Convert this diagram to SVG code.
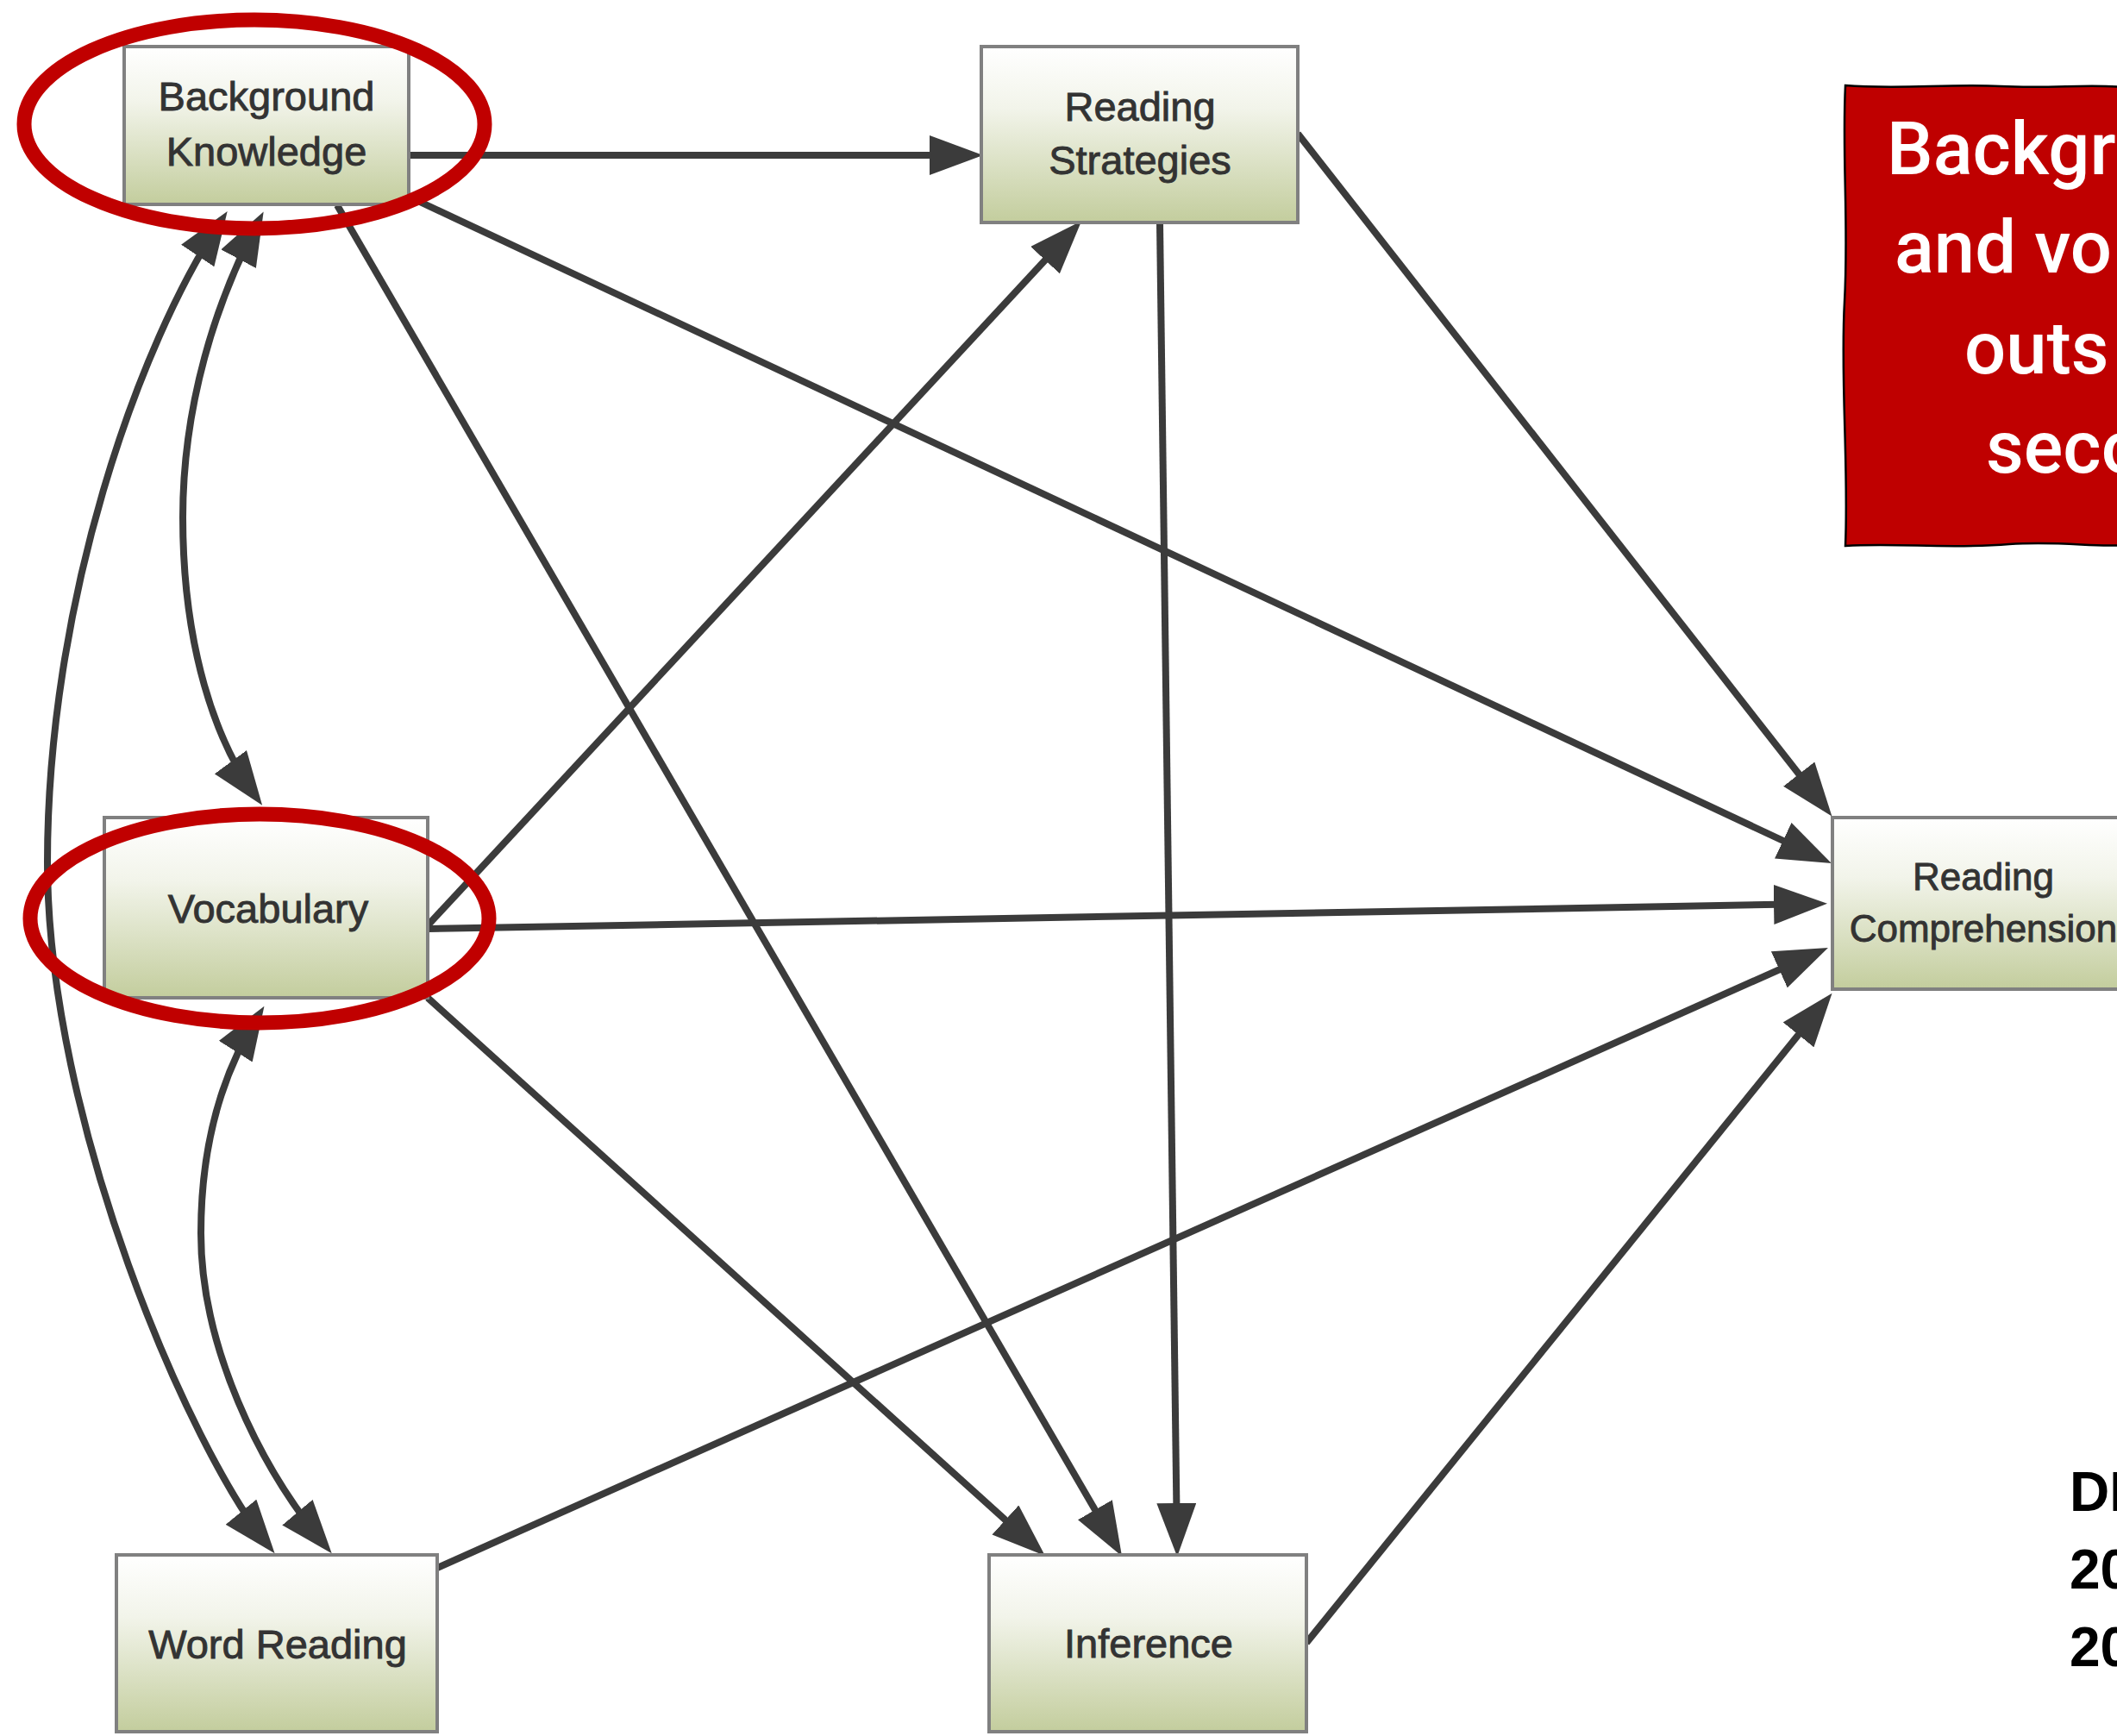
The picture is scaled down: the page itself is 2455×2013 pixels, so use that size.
<svg xmlns="http://www.w3.org/2000/svg" width="2455" height="2013" viewBox="0 0 2455 2013">
<defs>
<linearGradient id="nodeFill" x1="0" y1="0" x2="0" y2="1">
<stop offset="0" stop-color="#ffffff"/>
<stop offset="0.35" stop-color="#f2f4ea"/>
<stop offset="1" stop-color="#c3cd9d"/>
</linearGradient>
<marker id="arrow" viewBox="0 0 62 46" markerUnits="userSpaceOnUse" markerWidth="62" markerHeight="46" refX="50" refY="23" orient="auto-start-reverse">
<path d="M0,0 L62,23 L0,46 z" fill="#3b3b3b"/>
</marker>
<style>
.node rect{fill:url(#nodeFill);stroke:#808080;stroke-width:4}
.node text{font-family:"Liberation Sans",Arial,sans-serif;font-size:47px;fill:#333333;stroke:#333333;stroke-width:0.9;text-anchor:middle}
.conn path{fill:none;stroke:#3b3b3b;stroke-width:8;marker-end:url(#arrow)}
.conn path.both{marker-start:url(#arrow)}
.hl{fill:none;stroke:#c00000;stroke-width:17}
.callout text{font-family:Roboto,"Liberation Sans",sans-serif;font-weight:500;font-size:85px;fill:#ffffff}
.cite text{font-family:"Liberation Sans",Arial,sans-serif;font-weight:bold;font-size:64px;fill:#000000}
</style>
</defs>
<rect width="2455" height="2013" fill="#ffffff"/>

<g id="connectors" class="conn">
<path d="M476,180 L1128,180"/>
<path d="M474,228 L2113,996"/>
<path d="M391,238 L1295,1794"/>
<path d="M1505,155 L2117,937"/>
<path d="M1345,258 L1365,1793"/>
<path d="M497,1072 L1246,265"/>
<path d="M497,1077 L2107,1048"/>
<path d="M496,1157 L1203,1796"/>
<path d="M507,1818 L2109,1104"/>
<path d="M1515,1905 L2117,1161"/>
<path class="both" d="M257,255 C160,400 55,700 55,1000 C55,1300 220,1680 311,1792"/>
<path class="both" d="M300,256 C250,350 212,470 212,600 C212,750 250,860 297,924"/>
<path class="both" d="M300,1177 C260,1240 233,1320 233,1430 C233,1560 300,1700 377,1792"/>
</g>

<g id="node-background-knowledge" class="node">
<rect x="144" y="54" width="330" height="183"/>
<text x="309" y="128">Background</text>
<text x="309" y="192">Knowledge</text>
</g>
<g id="node-reading-strategies" class="node">
<rect x="1138" y="54" width="367" height="204"/>
<text x="1322" y="140">Reading</text>
<text x="1322" y="202">Strategies</text>
</g>
<g id="node-reading-comprehension" class="node">
<rect x="2125" y="948" width="360" height="199"/>
<text x="2300" y="1032" style="font-size:44px">Reading</text>
<text x="2300" y="1092" style="font-size:44px">Comprehension</text>
</g>
<g id="node-vocabulary" class="node">
<rect x="121" y="948" width="375" height="209"/>
<text x="311" y="1070">Vocabulary</text>
</g>
<g id="node-word-reading" class="node">
<rect x="135" y="1803" width="372" height="205"/>
<text x="322" y="1923">Word Reading</text>
</g>
<g id="node-inference" class="node">
<rect x="1147" y="1803" width="368" height="205"/>
<text x="1332" y="1922">Inference</text>
</g>

<g id="highlights">
<ellipse class="hl" cx="295" cy="144" rx="267" ry="121"/>
<ellipse class="hl" cx="301" cy="1065" rx="266" ry="121"/>
</g>

<g id="callout" class="callout">
<path d="M2462,101 C2420,97 2380,103 2320,100 C2260,97 2200,104 2140,99 C2136,180 2144,260 2139,350 C2134,440 2144,540 2140,633 C2200,629 2260,637 2330,631 C2390,627 2430,635 2462,632" fill="#bf0000" stroke="#000000" stroke-width="2.5"/>
<text x="2188" y="202">Backgr</text>
<text x="2197" y="316">and vo</text>
<text x="2278" y="433">outs</text>
<text x="2303" y="548">seco</text>
</g>

<g id="citation" class="cite">
<text x="2400" y="1752">DI</text>
<text x="2400" y="1842">20</text>
<text x="2400" y="1932">20</text>
</g>
</svg>
